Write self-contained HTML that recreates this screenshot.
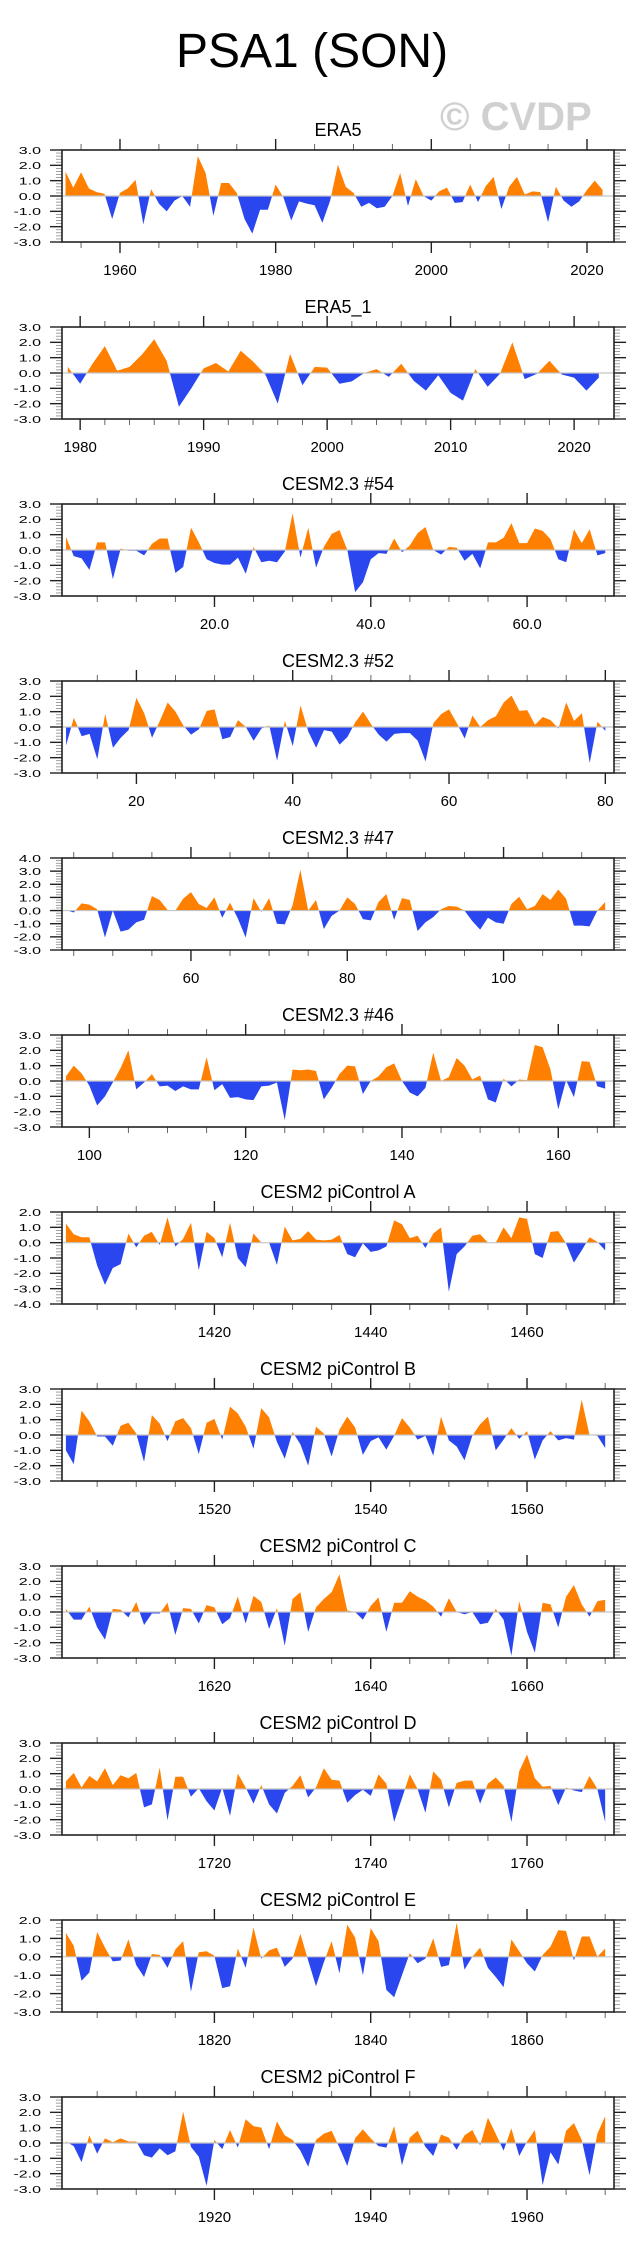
<!DOCTYPE html>
<html><head><meta charset="utf-8">
<style>
html,body{margin:0;padding:0;background:#fff;}
svg{display:block;font-family:"Liberation Sans",sans-serif;}
</style></head>
<body>
<svg id="chart" width="641" height="2253" viewBox="0 0 641 2253" xmlns="http://www.w3.org/2000/svg">
<text x="176" y="67" font-size="48" fill="#000">PSA1 (SON)</text>
<text x="440" y="130" font-size="40" font-weight="bold" fill="#d0d0d0">© CVDP</text>
</svg>
<script>
// ---- data ----
const era5 = [1.6,0.55,1.55,0.5,0.25,0.15,-1.5,0.2,0.5,1.05,-1.85,0.45,-0.5,-1.0,-0.3,0.0,-0.7,2.6,1.5,-1.3,0.85,0.85,0.2,-1.5,-2.45,-0.9,-0.9,0.75,-0.1,-1.6,-0.35,-0.5,-0.6,-1.75,-0.3,2.05,0.6,0.2,-0.7,-0.45,-0.8,-0.7,0.0,1.5,-0.65,1.1,0.0,-0.3,0.3,0.55,-0.45,-0.4,0.75,-0.4,0.65,1.25,-0.85,0.6,1.25,0.1,0.3,0.25,-1.7,0.6,-0.3,-0.7,-0.35,0.4,1.0,0.4];
const era5b = [0.4,-0.7,0.6,1.75,0.15,0.4,1.2,2.2,0.8,-2.2,-1.0,0.3,0.65,0.1,1.45,0.75,-0.1,-2.0,1.25,-0.8,0.4,0.35,-0.7,-0.55,0.0,0.25,-0.25,0.6,-0.5,-1.15,-0.15,-1.3,-1.8,0.25,-0.9,-0.05,2.0,-0.4,-0.05,0.8,-0.1,-0.3,-1.15,-0.3];
const cesm54 = [0.85,-0.4,-0.55,-1.3,0.5,0.5,-1.9,0.1,-0.05,-0.05,-0.35,0.4,0.75,0.75,-1.5,-1.1,1.45,0.5,-0.6,-0.85,-0.95,-0.95,-0.5,-1.55,0.2,-0.8,-0.7,-0.8,-0.1,2.4,-0.5,1.45,-1.15,0.2,1.05,1.3,0.0,-2.75,-2.1,-0.6,-0.2,-0.25,0.75,-0.15,0.3,1.1,1.5,0.0,-0.3,0.2,0.15,-0.7,-0.25,-1.2,0.5,0.5,0.8,1.75,0.45,0.45,1.4,1.25,0.7,-0.6,-0.8,1.35,0.45,1.35,-0.35,-0.2];
const cesm52 = [-1.2,0.6,-0.6,-0.45,-2.1,0.85,-1.35,-0.7,-0.2,1.9,0.9,-0.7,0.4,1.6,1.0,0.1,-0.5,-0.15,1.05,1.15,-0.8,-0.65,0.45,0.0,-0.9,-0.1,0.1,-2.2,0.4,-1.25,1.4,-0.3,-1.35,-0.2,-0.3,-1.15,-0.65,0.3,1.0,0.2,-0.5,-0.95,-0.45,-0.4,-0.4,-0.9,-2.25,0.25,0.85,1.15,0.25,-0.75,0.75,0.0,0.45,0.7,1.6,2.05,1.05,1.1,0.15,0.65,0.45,-0.1,1.6,0.4,0.9,-2.35,0.35,-0.25];
const cesm47 = [0.05,-0.15,0.55,0.45,0.1,-2.05,0.0,-1.6,-1.45,-0.9,-0.7,1.1,0.8,0.05,0.0,0.9,1.4,0.5,0.2,1.0,-0.55,0.6,-0.6,-2.05,0.95,-0.1,0.95,-1.0,-1.05,0.4,3.1,0.0,0.8,-1.4,-0.4,0.0,1.0,0.5,-0.65,-0.75,0.65,1.25,-0.7,0.95,0.8,-1.55,-0.9,-0.5,0.1,0.35,0.3,0.0,-0.8,-1.45,-0.55,-0.9,-1.0,0.5,1.05,0.1,0.35,1.25,0.8,1.6,0.9,-1.15,-1.15,-1.2,0.0,0.65];
const cesm46 = [0.3,1.0,0.5,-0.3,-1.6,-1.0,-0.1,0.85,2.0,-0.55,-0.1,0.45,-0.35,-0.3,-0.65,-0.35,-0.55,-0.55,1.55,-0.6,-0.2,-1.1,-1.05,-1.2,-1.25,-0.35,-0.3,-0.1,-2.55,0.75,0.7,0.75,0.65,-1.2,-0.45,0.45,1.0,0.95,-0.85,0.0,0.3,0.9,1.15,0.0,-0.75,-1.0,-0.45,1.85,0.0,0.25,1.5,1.0,0.1,0.35,-1.2,-1.4,0.15,-0.35,0.1,0.05,2.35,2.2,0.75,-1.85,0.05,-1.05,1.3,1.25,-0.35,-0.5];
const piA = [1.25,0.55,0.35,0.35,-1.5,-2.75,-1.65,-1.4,0.6,-0.3,0.45,0.7,-0.15,1.65,-0.25,0.25,1.3,-1.8,0.7,0.3,-0.95,1.3,-1.0,-1.6,0.6,0.0,0.0,-1.45,1.05,0.15,0.25,0.75,0.2,0.15,0.2,0.5,-0.75,-0.95,-0.05,-0.6,-0.5,-0.25,1.45,1.2,0.3,0.45,-0.35,0.6,1.0,-3.2,-0.75,-0.25,0.45,0.55,0.0,0.0,1.0,0.3,1.65,1.55,-0.75,-1.0,0.7,0.75,-0.05,-1.3,-0.5,0.35,0.05,-0.5];
const piB = [-1.0,-1.9,1.6,0.9,-0.1,-0.1,-0.7,0.6,0.8,0.1,-1.75,1.3,0.75,-0.4,0.9,1.1,0.45,-1.25,0.8,1.05,-0.3,1.85,1.4,0.55,-0.9,1.75,1.15,-0.45,-1.55,0.2,-0.6,-2.0,0.55,0.1,-1.4,0.35,1.2,0.5,-1.3,-0.4,-0.15,-0.95,-0.05,1.1,0.5,-0.3,-0.05,-1.35,1.2,-0.35,-0.75,-1.65,-0.05,0.7,1.2,-1.0,-0.3,0.45,-0.25,0.25,-1.6,-0.35,0.25,-0.35,-0.2,-0.3,2.3,0.0,-0.05,-0.85];
const piC = [0.2,-0.5,-0.5,0.35,-1.0,-1.8,0.2,0.15,-0.35,0.65,-0.85,-0.1,-0.1,0.6,-1.5,0.25,0.2,-0.75,0.45,0.3,-0.8,-0.4,1.0,-0.75,1.05,0.65,-1.1,0.25,-2.2,0.85,1.3,-1.3,0.3,0.85,1.3,2.45,0.1,0.0,-0.5,0.4,0.95,-1.3,0.6,0.6,1.35,1.0,0.75,0.35,-0.3,0.9,0.0,-0.15,0.0,-0.8,-0.7,0.2,-0.5,-2.85,0.7,-1.3,-2.65,0.6,0.5,-1.0,1.0,1.75,0.5,-0.3,0.7,0.8];
const piD = [0.5,1.05,0.1,0.85,0.5,1.35,0.25,0.9,0.7,1.05,-1.2,-1.0,1.4,-2.05,0.8,0.8,-0.5,0.05,-0.8,-1.4,0.1,-1.75,1.0,0.1,-0.95,0.25,-1.0,-1.6,-0.25,0.2,0.9,-0.55,0.1,1.35,0.6,0.55,-0.9,-0.4,-0.05,-0.45,0.95,0.35,-2.15,-0.6,0.95,0.0,-1.55,1.15,0.6,-1.2,0.4,0.55,0.55,-0.95,0.35,0.75,0.2,-2.15,1.15,2.25,0.7,0.15,0.2,-1.05,0.1,-0.1,-0.2,0.85,0.0,-2.15];
const piE = [1.3,0.6,-1.3,-0.85,1.35,0.5,-0.25,-0.2,0.95,-0.45,-1.1,0.15,0.1,-0.6,0.4,0.85,-1.9,0.25,0.3,0.05,-1.7,-1.6,0.45,-0.6,1.6,-0.1,0.35,0.5,-0.55,-0.1,1.25,-0.2,-1.6,-0.3,0.85,-0.9,1.75,1.05,-1.0,1.55,0.85,-1.8,-2.2,-1.0,0.2,-0.35,-0.1,1.0,-0.55,-0.45,1.85,-0.7,0.0,0.5,-0.6,-1.1,-1.65,0.95,0.3,-0.35,-0.8,0.1,0.55,1.45,1.4,-0.2,1.1,1.1,0.0,0.45];
const piF = [0.1,-0.2,-1.25,0.5,-0.7,0.3,0.05,0.3,0.1,0.1,-0.8,-0.95,-0.35,-0.8,-0.55,2.05,-0.25,-0.9,-2.8,0.2,-0.4,0.85,-0.3,1.55,1.1,1.0,-0.4,1.4,0.5,0.2,-0.5,-1.55,0.2,0.6,0.8,-0.3,-1.5,0.3,0.9,0.3,-0.2,-0.3,1.1,-1.45,0.35,0.8,-0.25,-0.85,0.55,0.35,-0.45,0.5,0.85,-0.15,1.65,0.6,-0.5,0.95,-0.85,0.1,0.85,-2.75,-0.6,-1.4,0.8,1.3,0.2,-2.1,0.6,1.75];

const titles = ["ERA5","ERA5_1","CESM2.3 #54","CESM2.3 #52","CESM2.3 #47","CESM2.3 #46","CESM2 piControl A","CESM2 piControl B","CESM2 piControl C","CESM2 piControl D","CESM2 piControl E","CESM2 piControl F"];
const series = [era5,era5b,cesm54,cesm52,cesm47,cesm46,piA,piB,piC,piD,piE,piF];
const startX = [1953,1979,1,11,44,97,1401,1501,1601,1701,1801,1901];
const xMins = [1952.55,1978.53,0.49,10.48,43.5,96.5,1400.5,1500.5,1600.5,1700.5,1800.5,1900.5];
const xMaxs = [2023.47,2023.23,71.12,81.11,114.13,167.13,1471.13,1571.13,1671.13,1771.13,1871.13,1971.13];
const yMins = [-3,-3,-3,-3,-3,-3,-4,-3,-3,-3,-3,-3];
const yMaxs = [3,3,3,3,4,3,2,3,3,3,2,3];
const majorStep = [20,10,20,20,20,20,20,20,20,20,20,20];
const minorStep = [5,2,5,5,5,5,5,5,5,5,5,5];
const labelDecimals = [0,0,1,0,0,0,0,0,0,0,0,0];

// ---- layout ----
const NS = "http://www.w3.org/2000/svg";
const svg = document.getElementById('chart');
const L = 62, R = 614, H = 92, TOP0 = 150, GAP = 177;
const ORANGE = "#ff8000", BLUE = "#2a46ee", FRAME = "#222";

function mk(tag, attrs, parent) {
  const e = document.createElementNS(NS, tag);
  for (const k in attrs) e.setAttribute(k, attrs[k]);
  (parent || svg).appendChild(e);
  return e;
}

for (let p = 0; p < titles.length; p++) {
  const top = TOP0 + p * GAP, bot = top + H;
  const xs = v => L + (v - xMins[p]) / (xMaxs[p] - xMins[p]) * (R - L);
  const ys = v => bot - (v - yMins[p]) / (yMaxs[p] - yMins[p]) * H;
  const g = mk('g', {});
  
  

  const t = mk('text', {x: 338, y: top - 14, 'font-size': 18, 'text-anchor': 'middle', fill: '#000'}, g);
  t.textContent = titles[p];
  
  

  // area
  const vals = series[p];
  const y0 = ys(0);
  let d = 'M' + xs(startX[p]) + ',' + y0;
  vals.forEach((v, i) => { d += ' L' + xs(startX[p] + i) + ',' + ys(v); });
  d += ' L' + xs(startX[p] + vals.length - 1) + ',' + y0 + ' Z';
  const cid = 'c' + p;
  const defs = mk('defs', {}, g);
  const cu = mk('clipPath', {id: cid + 'u'}, defs);
  mk('rect', {x: L, y: top, width: R - L, height: y0 - top}, cu);
  const cd = mk('clipPath', {id: cid + 'd'}, defs);
  mk('rect', {x: L, y: y0, width: R - L, height: bot - y0}, cd);
  const up = mk('path', {d: d, fill: ORANGE, 'clip-path': 'url(#' + cid + 'u)'}, g);
  
  
  const dn = mk('path', {d: d, fill: BLUE, 'clip-path': 'url(#' + cid + 'd)'}, g);
  
  
  const zl = mk('line', {x1: L, x2: R, y1: y0, y2: y0, stroke: '#c4c4c4', 'stroke-width': 1.2}, g);
  
  

  // y ticks
  for (let v = yMins[p]; v <= yMaxs[p] + 1e-6; v += 0.2) {
    const y = ys(v);
    const major = Math.abs(v - Math.round(v)) < 1e-6;
    const len = major ? 12 : 6;
    mk('line', {x1: L - len, x2: L, y1: y, y2: y, stroke: major ? FRAME : '#888', 'stroke-width': major ? 1.4 : 0.8}, g);
    mk('line', {x1: R, x2: R + len, y1: y, y2: y, stroke: major ? FRAME : '#888', 'stroke-width': major ? 1.4 : 0.8}, g);
    if (major) {
      const lb = mk('text', {transform: 'translate(41,' + (y + 0.5) + ') scale(1,0.62)', 'font-size': 16, 'text-anchor': 'end', 'dominant-baseline': 'central', fill: '#000'}, g);
      lb.textContent = Math.round(v).toFixed(1);
      
      
    }
  }
  // x ticks
  const mStart = Math.ceil(xMins[p] / minorStep[p]) * minorStep[p];
  for (let v = mStart; v <= xMaxs[p]; v += minorStep[p]) {
    const x = xs(v);
    const major = v % majorStep[p] === 0;
    const len = major ? 11 : 6;
    mk('line', {x1: x, x2: x, y1: top - len, y2: top, stroke: major ? FRAME : '#666', 'stroke-width': major ? 1.4 : 1}, g);
    mk('line', {x1: x, x2: x, y1: bot, y2: bot + len, stroke: major ? FRAME : '#666', 'stroke-width': major ? 1.4 : 1}, g);
    if (major) {
      const lb = mk('text', {x: x, y: bot + 33, 'font-size': 15, 'text-anchor': 'middle', fill: '#000'}, g);
      lb.textContent = v.toFixed(labelDecimals[p]);
      
      
    }
  }
  const fr = mk('rect', {x: L, y: top, width: R - L, height: H, fill: 'none', stroke: FRAME, 'stroke-width': 1.6}, g);
  
  
}
</script>
</body></html>
